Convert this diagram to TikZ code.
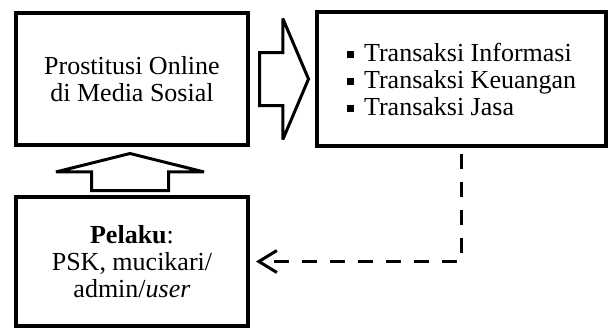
\documentclass[tikz,border=0pt]{standalone}
\usepackage{fontspec}
\setmainfont{Liberation Serif}
\usetikzlibrary{arrows.meta,calc,positioning,shapes.arrows}
\tikzset{
  >=Latex,
  mainbox/.style={draw=black,line width=2pt,fill=white,align=center,inner sep=4pt,
    font=\fontsize{13}{13.5}\selectfont},
  listbox/.style={mainbox,align=left},
  blockarrow/.style={single arrow,draw=black,line width=1.5pt,fill=white,
    inner xsep=0pt,miter limit=2,anchor=tail},
  backflow/.style={-{Straight Barb[length=9pt,width=11pt]},line width=1.5pt,
    dash pattern=on 7.5pt off 6.5pt,shorten <=3pt,shorten >=3pt}
}
\newcommand{\sqitem}{\rule[1.3pt]{3.6pt}{3.6pt}\hspace{5pt}}

\begin{document}
\begin{tikzpicture}[x=0.5pt,y=0.5pt]
  \useasboundingbox (0,0) rectangle (608,-329);

  \node[mainbox,minimum width=116pt,minimum height=66pt] (online) at (132,-79) {Prostitusi Online\\di Media Sosial};
  \node[listbox,minimum width=144.5pt,minimum height=67pt,right=32.5pt of online] (transaksi) {\sqitem Transaksi Informasi\\\sqitem Transaksi Keuangan\\\sqitem Transaksi Jasa};
  \node[mainbox,minimum width=116pt,minimum height=64.5pt,below=24pt of online] (pelaku) {\textbf{Pelaku}:\\PSK, mucikari/\\admin/\textit{user}};

  % block arrows between the boxes, placed by their tails
  \node[blockarrow,minimum height=24.5pt,inner ysep=12.5pt,single arrow head extend=17pt,
    single arrow tip angle=134] (toright) at ($(online.east)+(8,0)$) {};
  \node[blockarrow,rotate=90,minimum height=18.5pt,inner ysep=18.5pt,single arrow head extend=17.75pt,
    single arrow tip angle=152] (toup) at ($(pelaku.north)+(-2,3)$) {};

  \draw[backflow] (transaksi.south) |- (pelaku.east);
\end{tikzpicture}
\end{document}
